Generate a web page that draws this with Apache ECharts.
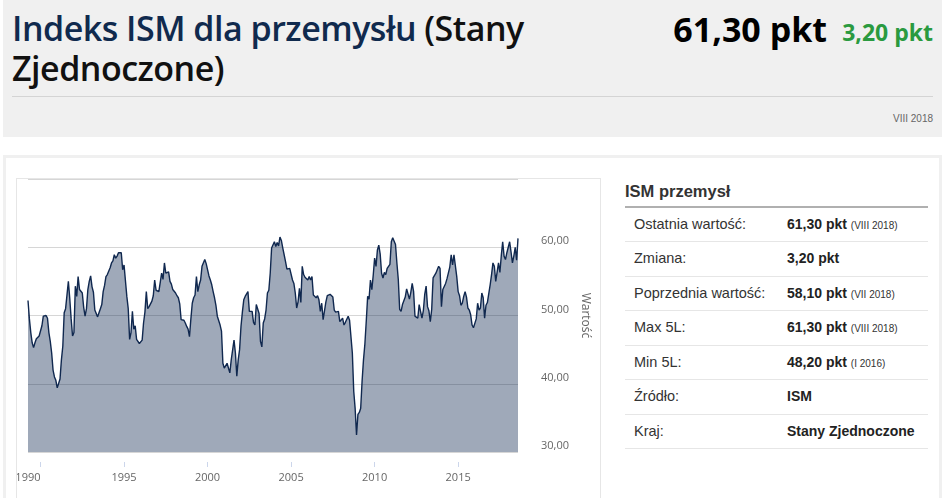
<!DOCTYPE html>
<html lang="pl">
<head>
<meta charset="utf-8">
<title>Indeks ISM dla przemysłu (Stany Zjednoczone)</title>
<script src="https://cdn.jsdelivr.net/npm/echarts@6.0.0/dist/echarts.min.js"></script>
<style>
  html, body { margin: 0; padding: 0; background: #fff; width: 945px; height: 498px; overflow: hidden; }
  body { position: relative; font-family: "Liberation Sans", Arial, sans-serif; color: #333; }
  .abs { position: absolute; }
  #head { left: 3px; top: 0; width: 939px; height: 137px; background: #f0f0f0; }
  #title { left: 12px; top: 8px; font-family: "Open Sans", sans-serif; font-weight: 600; font-size: 34px; line-height: 40px; white-space: nowrap; letter-spacing: -0.5px; }
  #title div { height: 40px; }
  #title .a { color: #102a4e; }
  #title .b { color: #111; }
  #last { right: 118px; top: 12px; font-family: "Open Sans", sans-serif; font-weight: 700; font-size: 34px; line-height: 34px; color: #000; white-space: nowrap; }
  #chg { right: 12px; top: 21px; font-family: "Open Sans", sans-serif; font-weight: 700; font-size: 23px; line-height: 23px; color: #2a9a3f; white-space: nowrap; }
  #rule { left: 12px; top: 96px; width: 921px; height: 1px; background: #d4d4d4; }
  #date { right: 12px; top: 113px; font-size: 10px; line-height: 12px; color: #666; }
  #panel { left: 3px; top: 155px; width: 933px; height: 360px; border: 3px solid #f0f0f0; }
  #box { left: 16px; top: 178px; width: 583px; height: 340px; border: 1px solid #e6e6e6; }
  #chart { left: 17px; top: 178px; width: 583px; height: 320px; }
  #info { left: 625px; top: 181px; width: 303px; }
  #info h3 { margin: 0; font-size: 16.5px; line-height: 20px; font-weight: 700; color: #333; height: 25px; border-bottom: 2px solid #b0b0b0; }
  #info .row { height: 33.43px; line-height: 33.43px; border-bottom: 1px solid #e6e6e6; position: relative; white-space: nowrap; }
  #info .k { position: absolute; left: 9px; font-size: 14.5px; color: #333; }
  #info .v { position: absolute; left: 162px; font-size: 14px; font-weight: 700; color: #222; }
  #info .v small { font-size: 10px; font-weight: 400; color: #333; }
</style>
</head>
<body>
<div id="head" class="abs"></div>
<div id="title" class="abs">
  <div><span class="a">Indeks ISM dla przemysłu</span> <span class="b">(Stany</span></div>
  <div><span class="b">Zjednoczone)</span></div>
</div>
<div id="last" class="abs">61,30 pkt</div>
<div id="chg" class="abs">3,20 pkt</div>
<div id="rule" class="abs"></div>
<div id="date" class="abs">VIII 2018</div>

<div id="panel" class="abs"></div>
<div id="box" class="abs"></div>
<div id="chart" class="abs"></div>

<div id="info" class="abs">
  <h3>ISM przemysł</h3>
  <div class="row"><span class="k">Ostatnia wartość:</span><span class="v">61,30 pkt <small>(VIII 2018)</small></span></div>
  <div class="row"><span class="k">Zmiana:</span><span class="v">3,20 pkt</span></div>
  <div class="row"><span class="k">Poprzednia wartość:</span><span class="v">58,10 pkt <small>(VII 2018)</small></span></div>
  <div class="row"><span class="k">Max 5L:</span><span class="v">61,30 pkt <small>(VIII 2018)</small></span></div>
  <div class="row"><span class="k">Min 5L:</span><span class="v">48,20 pkt <small>(I 2016)</small></span></div>
  <div class="row"><span class="k">Źródło:</span><span class="v">ISM</span></div>
  <div class="row"><span class="k">Kraj:</span><span class="v">Stany Zjednoczone</span></div>
</div>

<script>
  // monthly index values, first one is April 1989
  const startYear = 1989;
  const startMonth = 4;

  const ism1989_1994 = [
    52.2, 49.5, 47.5, 46.0, 45.3, 46.0, 46.6, 46.8, 47.0,
    47.2, 48.5, 49.9, 50.1, 50.0, 49.6, 47.5, 46.2, 44.5, 42.0, 41.0, 40.5,
    39.4, 39.6, 40.7, 43.5, 45.5, 50.4, 51.0, 53.0, 55.0, 52.5, 49.5, 47.0,
    47.5, 54.3, 52.8, 55.7, 53.8, 53.7, 53.3, 51.2, 49.9, 51.0, 53.8, 55.0,
    55.8, 54.2, 53.4, 50.8, 51.0, 49.8, 50.4, 51.0, 51.6, 53.5, 54.4, 55.7,
    56.0, 56.2, 57.0, 57.7, 58.0, 58.9, 58.4, 58.7, 59.2, 59.4, 59.2, 56.7
  ];
  const ism1995_1999 = [
    57.4, 55.1, 52.8, 51.0, 46.5, 47.5, 50.6, 48.0, 48.5, 46.5, 46.6, 45.9,
    45.7, 46.4, 48.9, 50.5, 53.5, 51.0, 51.3, 51.4, 52.1, 52.9, 55.2, 53.7,
    53.8, 53.5, 53.7, 56.2, 55.3, 57.7, 56.2, 56.4, 56.4, 55.0, 54.6, 53.8,
    53.8, 53.3, 52.9, 52.6, 51.7, 49.4, 49.6, 49.3, 48.9, 48.4, 48.0, 46.9,
    49.5, 51.8, 52.6, 53.0, 55.7, 53.5, 54.5, 55.2, 57.2, 57.0, 58.2, 57.6
  ];
  const ism2000_2004 = [
    57.4, 55.8, 55.2, 54.5, 53.5, 52.6, 51.5, 49.9, 49.7, 48.6, 47.7, 43.0,
    42.3, 42.5, 43.0, 42.8, 41.6, 43.5, 43.6, 46.4, 44.5, 41.1, 43.5, 45.0,
    48.4, 50.5, 52.3, 52.8, 53.0, 53.5, 50.6, 50.4, 50.6, 49.0, 48.6, 51.6,
    51.6, 50.3, 46.2, 45.4, 48.9, 49.5, 50.8, 53.3, 53.7, 56.2, 59.9, 60.1,
    60.8, 60.1, 60.7, 60.2, 61.5, 61.0, 59.9, 58.9, 57.9, 56.8, 56.8, 56.9
  ];
  const ism2005_2009 = [
    56.8, 55.2, 54.7, 53.3, 51.1, 52.0, 54.0, 51.9, 57.2, 56.0, 55.6, 55.7,
    55.2, 55.7, 55.2, 55.7, 53.0, 53.2, 52.6, 52.9, 52.3, 50.6, 51.8, 49.4,
    49.4, 52.0, 52.9, 53.0, 53.1, 53.0, 52.7, 50.8, 50.5, 50.3, 50.6, 49.1,
    49.1, 49.6, 48.6, 49.0, 49.0, 49.9, 49.3, 49.4, 44.5, 38.9, 36.4, 32.5,
    35.5, 35.8, 36.4, 40.4, 43.5, 45.8, 49.2, 52.8, 52.4, 55.2, 53.8, 55.9
  ];
  const ism2010_2014 = [
    58.4, 57.2, 59.6, 60.3, 59.0, 56.2, 55.5, 56.3, 56.0, 56.9, 56.7, 57.5,
    60.8, 61.4, 61.2, 60.4, 57.7, 55.3, 50.9, 50.6, 51.6, 51.5, 52.7, 53.9,
    54.1, 52.4, 53.4, 54.7, 53.5, 49.9, 49.8, 49.6, 51.6, 51.7, 49.6, 50.7,
    53.1, 54.3, 51.3, 50.7, 49.1, 50.9, 55.5, 55.7, 56.2, 56.4, 57.2, 56.9,
    51.3, 53.8, 53.7, 54.7, 55.4, 55.5, 57.1, 58.9, 57.4, 58.9, 58.7, 55.7
  ];
  const ism2015_2018 = [
    53.5, 52.9, 51.5, 51.8, 52.8, 53.5, 52.7, 51.1, 50.8, 50.1, 48.6, 48.2,
    48.2, 49.5, 51.8, 50.8, 51.1, 53.3, 52.6, 49.6, 51.5, 51.9, 53.2, 54.5,
    56.0, 57.7, 57.2, 55.0, 54.9, 57.7, 56.3, 58.8, 60.8, 58.7, 58.2, 59.2,
    59.1, 60.8, 59.3, 57.7, 58.7, 60.0, 58.1, 61.3
  ];

  const yearTicks = [1990, 1995, 2000, 2005, 2010, 2015];
  const valueTicks = [30, 40, 50, 60, 70];

  const values = [].concat(ism1989_1994, ism1995_1999, ism2000_2004,
    ism2005_2009, ism2010_2014, ism2015_2018);

  // x is the year with months as twelfths
  const data = values.map(function (v, i) {
    return [startYear + (startMonth - 1 + i) / 12, v];
  });

  const chart = echarts.init(document.getElementById('chart'), null, { renderer: 'canvas' });

  chart.setOption({
    animation: false,
    textStyle: { fontFamily: '"Open Sans", sans-serif' },
    grid: {
      left: 11, top: 1, width: 490, height: 273,
      containLabel: false, outerBoundsMode: 'none'
    },
    xAxis: {
      type: 'value',
      min: data[0][0],
      max: data[data.length - 1][0],
      offset: 10,
      axisLine: { show: false },
      axisTick: {
        show: true, length: 5, customValues: yearTicks,
        lineStyle: { color: '#ccd6eb', width: 1 }
      },
      axisLabel: {
        customValues: yearTicks,
        margin: 10,
        fontSize: 11,
        color: '#666',
        alignMinLabel: 'right',
        hideOverlap: false,
        formatter: function (v) { return String(v); }
      },
      splitLine: { show: false }
    },
    yAxis: {
      type: 'value',
      position: 'right',
      min: valueTicks[0],
      max: valueTicks[valueTicks.length - 1],
      interval: 10,
      name: 'Wartość',
      nameLocation: 'middle',
      nameRotate: -90,
      nameGap: 57,
      nameTextStyle: { color: '#666', fontSize: 12 },
      axisLine: { show: false },
      axisTick: { show: false },
      axisLabel: {
        margin: 23,
        fontSize: 11,
        color: '#666',
        verticalAlign: 'bottom',
        lineHeight: 12,
        showMaxLabel: false,
        formatter: function (v) { return v.toFixed(2).replace('.', ','); }
      },
      splitLine: { lineStyle: { color: '#d6d6d6', width: 1 } }
    },
    series: [{
      type: 'line',
      data: data,
      showSymbol: false,
      symbol: 'none',
      lineStyle: { color: '#10284f', width: 1.4 },
      areaStyle: { color: 'rgba(16, 40, 80, 0.4)', opacity: 1, origin: 'start' }
    }]
  });
</script>
</body>
</html>
